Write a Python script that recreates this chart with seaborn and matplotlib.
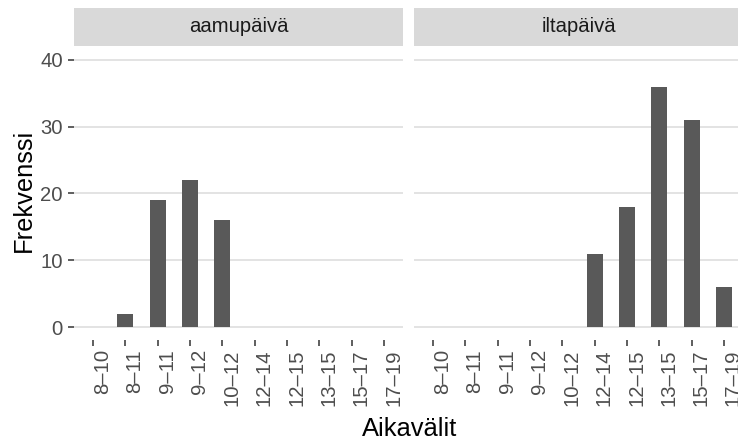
import matplotlib
matplotlib.use("Agg")
import matplotlib.pyplot as plt
import seaborn as sns
import pandas as pd
from matplotlib.patches import Rectangle

categories = ["8–10", "8–11", "9–11", "9–12", "10–12", "12–14", "12–15", "13–15", "15–17", "17–19"]
aamupaiva = [0, 2, 19, 22, 16, 0, 0, 0, 0, 0]
iltapaiva = [0, 0, 0, 0, 0, 11, 18, 36, 31, 6]
panels = ["aamupäivä", "iltapäivä"]
y_ticks = [0, 10, 20, 30, 40]

sns.set_theme(style="white")
plt.rcParams["font.family"] = ["Liberation Sans", "DejaVu Sans"]

fig = plt.figure(figsize=(7.38, 4.41), dpi=100)
W, H = 738.0, 441.0
pan_bottom = (H - 340.4) / H
pan_h = 293.8 / H
pan_w = 329.8 / W
lefts = [73.6 / W, 413.6 / W]

tick_col = "#333333"
lab_col = "#4D4D4D"
grid_col = "#E3E3E3"
small = 14.6
big = 18.4

for i, (name, vals) in enumerate(zip(panels, [aamupaiva, iltapaiva])):
    ax = fig.add_axes([lefts[i], pan_bottom, pan_w, pan_h])
    df = pd.DataFrame({"Aikavälit": categories, "Frekvenssi": vals})
    sns.barplot(data=df, x="Aikavälit", y="Frekvenssi", order=categories,
                color="#595959", saturation=1, width=0.5, ax=ax,
                edgecolor="none", linewidth=0)
    ax.set_xlim(-0.6, len(categories) - 0.4)
    ax.set_ylim(-2, 42)
    ax.set_yticks(y_ticks)
    ax.set_axisbelow(True)
    ax.yaxis.grid(True, color=grid_col, linewidth=1.4)
    ax.xaxis.grid(False)
    for s in ax.spines.values():
        s.set_visible(False)
    ax.set_xlabel("")
    ax.set_ylabel("")
    ax.tick_params(axis="x", length=4.3, width=1.1, color=tick_col, pad=2.0,
                   labelsize=small, labelcolor=lab_col, bottom=True)
    if i == 0:
        ax.tick_params(axis="y", length=4.3, width=1.1, color=tick_col, pad=3.4,
                       labelsize=small, labelcolor=lab_col, left=True)
    else:
        ax.tick_params(axis="y", left=False, labelleft=False)
    ax.set_xticks(range(len(categories)))
    ax.set_xticklabels(categories)
    for lab in ax.get_xticklabels():
        lab.set_rotation(90)
        lab.set_ha("left")
        lab.set_va("top")
        lab.set_rotation_mode("default")
    # facet strip
    strip_y = 1 + 0.9 / 293.8
    strip_h = 37.4 / 293.8
    ax.add_patch(Rectangle((0, strip_y), 1, strip_h, transform=ax.transAxes,
                           facecolor="#D9D9D9", edgecolor="none", clip_on=False))
    ax.text(0.5, strip_y + strip_h / 2, name, transform=ax.transAxes,
            ha="center", va="center", fontsize=small, color="#1A1A1A")

fig.text(24.0 / W, 1 - 190.5 / H, "Frekvenssi", rotation=90, ha="center", va="center",
         fontsize=big, color="black")
fig.text(409.5 / W, 1 - 436.0 / H, "Aikavälit", ha="center", va="baseline",
         fontsize=big, color="black")

fig.savefig("out.png", dpi=100, facecolor="white")
